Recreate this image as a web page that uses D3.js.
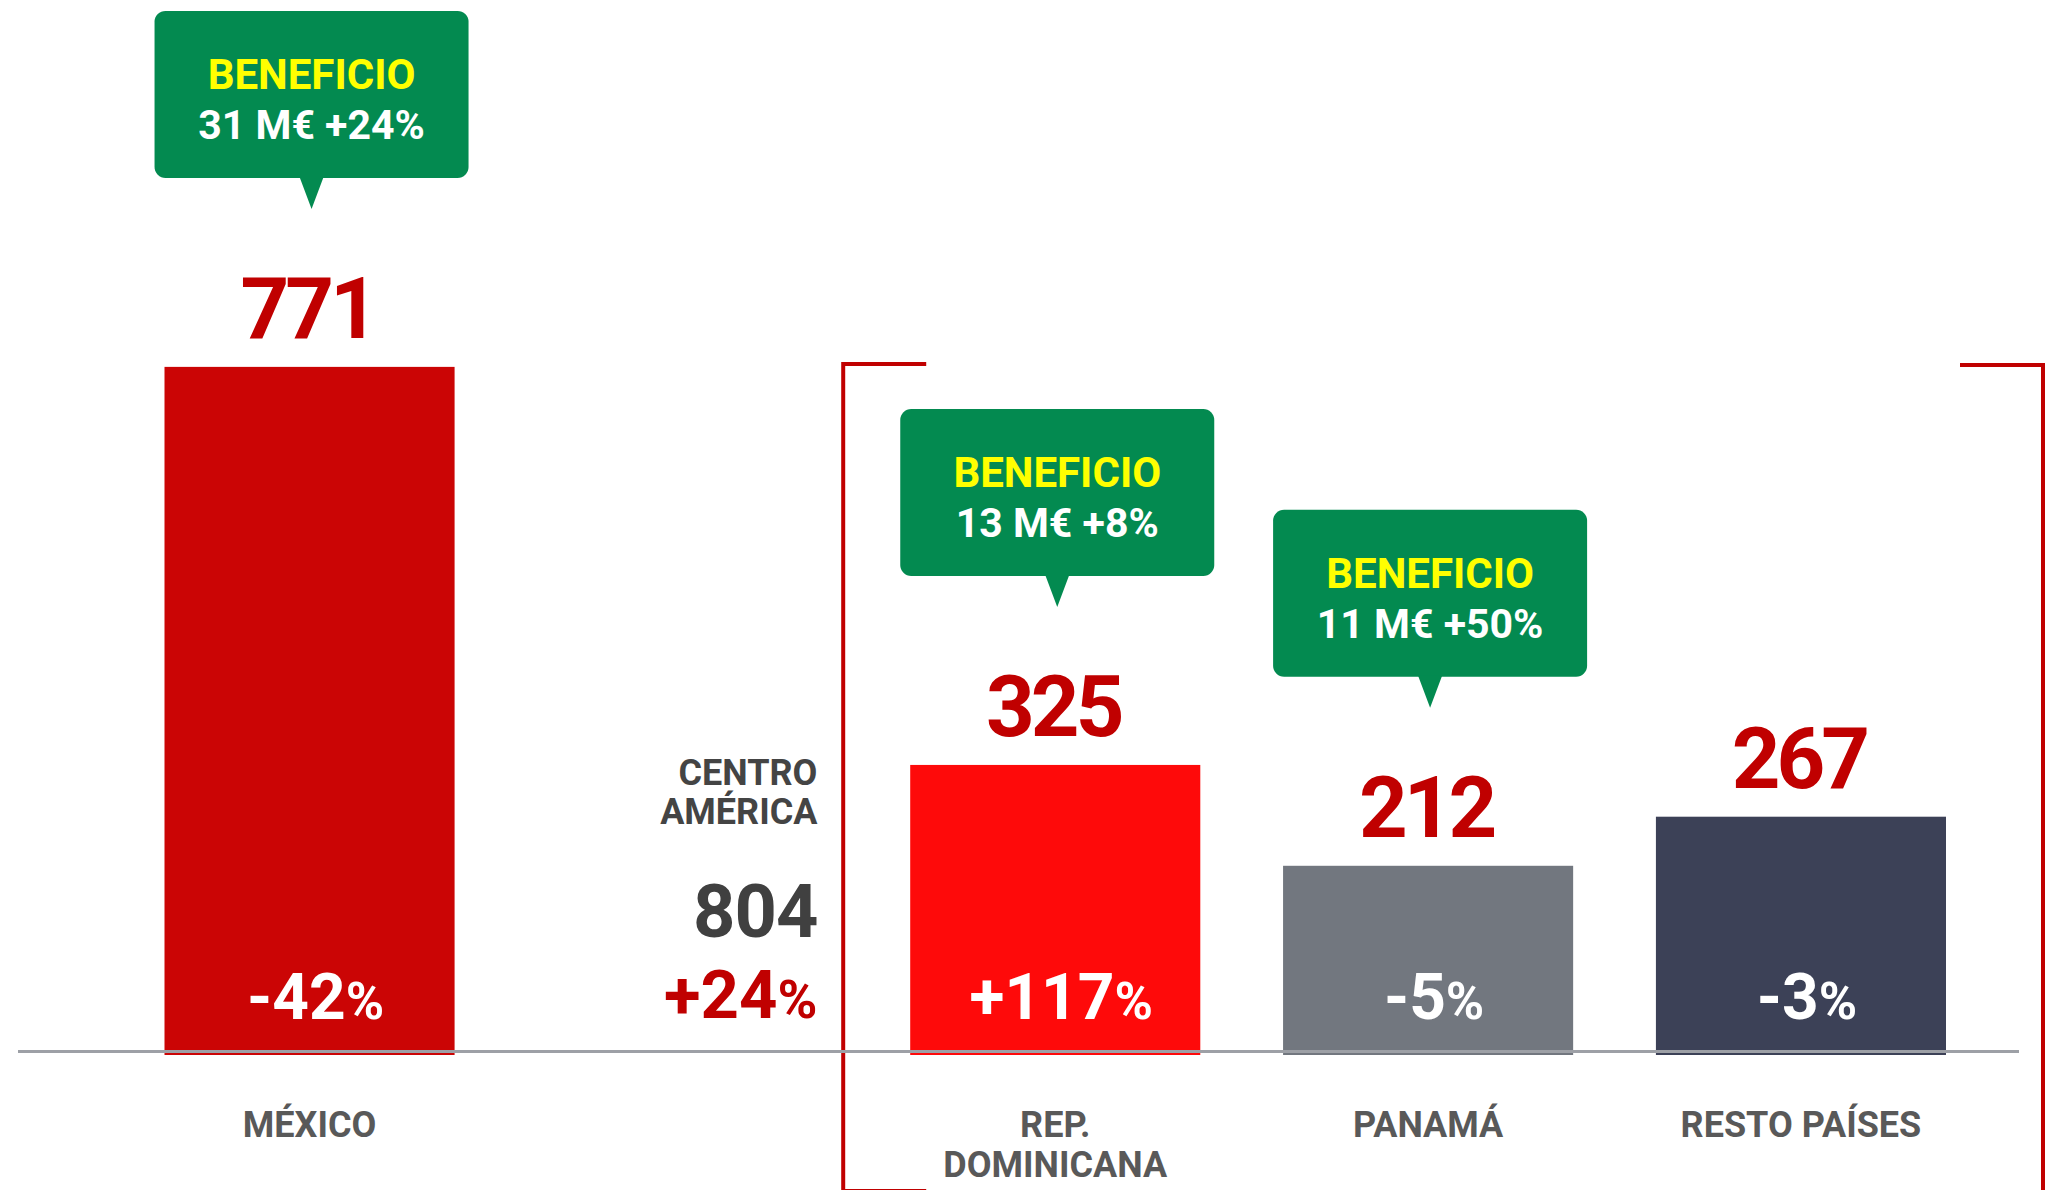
<!DOCTYPE html>
<html>
<head>
<meta charset="utf-8">
<script src="https://cdn.jsdelivr.net/npm/d3@7"></script>
<style>
  html, body { margin: 0; padding: 0; background: #fff; overflow: hidden; }
  text { font-family: Roboto, "Liberation Sans", sans-serif; font-weight: 700; }
</style>
</head>
<body>
<div id="chart"></div>
<script>
// ventas por pais (M€) y variacion
const slots = ["MÉXICO", "CENTRO AMÉRICA", "REP. DOMINICANA", "PANAMÁ", "RESTO PAÍSES"];
const countries = ["MÉXICO", "REP. DOMINICANA", "PANAMÁ", "RESTO PAÍSES"];
const ventas = [771, 325, 212, 267];
const variacion = [-42, 117, -5, -3];
const tickLabels = [["MÉXICO"], ["REP.", "DOMINICANA"], ["PANAMÁ"], ["RESTO PAÍSES"]];

// beneficio
const benPais = ["MÉXICO", "REP. DOMINICANA", "PANAMÁ"];
const benMeur = [31, 13, 11];
const benVar = [24, 8, 50];

// total centro america
const caLabel = ["CENTRO", "AMÉRICA"];
const caTotal = 804;
const caVar = 24;

const width = 2063;
const height = 1190;

const svg = d3.select("#chart").append("svg")
    .attr("width", width)
    .attr("height", height)

const x = d3.scaleBand()
    .domain(slots)
    .range([164.5, 1946])
    .paddingInner(0.222)
    .paddingOuter(0)

const y = d3.scaleLinear()
    .domain([0, 800])
    .range([1055, 341])

const colScale = d3.scaleOrdinal()
    .domain(countries)
    .range(["#cb0505", "#fe0a0a", "#72777f", "#3c4157"])

const sign = function(v){ return (v > 0 ? "+" : "-") + Math.abs(v) }

const bars = countries.map(function(c, i){ return {c: c, v: ventas[i], p: variacion[i], lab: tickLabels[i]} })

// bracket centro america
const bL = x("REP. DOMINICANA") - 67;
const bR = x("RESTO PAÍSES") + x.bandwidth() + 97;
svg.append("path")
    .attr("d", "M" + (bL + 83) + ",364 H" + bL + " V1191 H" + (bL + 83))
    .attr("fill", "none")
    .attr("stroke", "#c00000")
    .attr("stroke-width", 4)
svg.append("path")
    .attr("d", "M" + (bR - 83) + ",365 H" + bR + " V1200")
    .attr("fill", "none")
    .attr("stroke", "#c00000")
    .attr("stroke-width", 4)

// bars
svg.selectAll(".bar")
    .data(bars)
    .enter()
    .append("rect")
    .attr("class", "bar")
    .attr("x", function(d){ return x(d.c) })
    .attr("y", function(d){ return y(d.v) })
    .attr("width", x.bandwidth())
    .attr("height", function(d){ return y(0) - y(d.v) })
    .attr("fill", function(d){ return colScale(d.c) })

// baseline
svg.append("line")
    .attr("x1", 18).attr("x2", 2019)
    .attr("y1", y(0) - 3.5).attr("y2", y(0) - 3.5)
    .attr("stroke", "#9da0a6")
    .attr("stroke-width", 3)

// value labels
svg.selectAll(".val")
    .data(bars)
    .enter()
    .append("text")
    .attr("class", "val")
    .attr("x", function(d){ return x(d.c) + x.bandwidth() / 2 - 2 })
    .attr("y", function(d){ return y(d.v) - 29 })
    .attr("text-anchor", "middle")
    .attr("font-size", 85)
    .attr("letter-spacing", -4)
    .attr("fill", "#c00000")
    .text(function(d){ return d.v })

// percentage inside bars
const pct = svg.selectAll(".pct")
    .data(bars)
    .enter()
    .append("text")
    .attr("class", "pct")
    .attr("x", function(d){ return x(d.c) + x.bandwidth() / 2 + 6 })
    .attr("y", y(0) - 36)
    .attr("text-anchor", "middle")
    .attr("fill", "#fff")
    .attr("font-size", 64)
pct.append("tspan").text(function(d){ return sign(d.p) })
pct.append("tspan").attr("font-size", 52).text("%")

// category labels
const cat = svg.selectAll(".cat")
    .data(bars)
    .enter()
    .append("text")
    .attr("class", "cat")
    .attr("text-anchor", "middle")
    .attr("font-size", 36)
    .attr("fill", "#595959")
cat.selectAll("tspan")
    .data(function(d){ return d.lab.map(function(l){ return {l: l, c: d.c} }) })
    .enter()
    .append("tspan")
    .attr("x", function(d){ return x(d.c) + x.bandwidth() / 2 })
    .attr("y", function(d, i){ return y(0) + 82 + i * 40 })
    .text(function(d){ return d.l })

// centro america total
const caX = x("CENTRO AMÉRICA") + x.bandwidth() - 10;
svg.selectAll(".ca")
    .data(caLabel)
    .enter()
    .append("text")
    .attr("class", "ca")
    .attr("x", caX)
    .attr("y", function(d, i){ return y(0) - 270 + i * 39 })
    .attr("text-anchor", "end")
    .attr("font-size", 36)
    .attr("fill", "#444")
    .text(function(d){ return d })
svg.append("text")
    .attr("x", caX)
    .attr("y", y(0) - 118)
    .attr("text-anchor", "end")
    .attr("font-size", 74)
    .attr("letter-spacing", -1)
    .attr("fill", "#404040")
    .text(caTotal)
const caP = svg.append("text")
    .attr("x", caX)
    .attr("y", y(0) - 37)
    .attr("text-anchor", "end")
    .attr("font-size", 67)
    .attr("fill", "#c00000")
caP.append("tspan").text(sign(caVar))
caP.append("tspan").attr("font-size", 54).text("%")

// beneficio call-outs
const boxW = 314, boxH = 167;
const ben = benPais.map(function(p, i){ return {c: p, m: benMeur[i], v: benVar[i], top: y(ventas[countries.indexOf(p)]) - 189 - boxH} })
const g = svg.selectAll(".ben")
    .data(ben)
    .enter()
    .append("g")
    .attr("class", "ben")
    .attr("transform", function(d){ return "translate(" + (x(d.c) + x.bandwidth() / 2 + 2) + "," + d.top + ")" })
g.append("rect")
    .attr("x", -boxW / 2)
    .attr("width", boxW)
    .attr("height", boxH)
    .attr("rx", 11)
    .attr("fill", "#038a50")
g.append("path")
    .attr("d", "M-12," + (boxH - 1) + " L0," + (boxH + 31) + " L12," + (boxH - 1) + "Z")
    .attr("fill", "#038a50")
g.append("text")
    .attr("y", 78)
    .attr("text-anchor", "middle")
    .attr("font-size", 42)
    .attr("fill", "#ffff00")
    .text("BENEFICIO")
g.append("text")
    .attr("y", 128)
    .attr("text-anchor", "middle")
    .attr("font-size", 41)
    .attr("fill", "#fff")
    .text(function(d){ return d.m + " M€ +" + d.v + "%" })
</script>
</body>
</html>
